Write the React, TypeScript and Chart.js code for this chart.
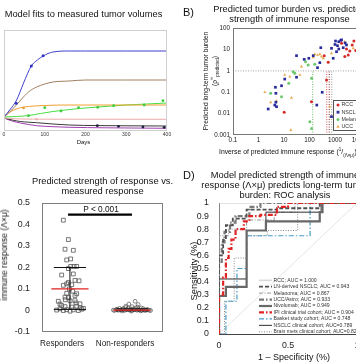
import React, { useEffect, useRef } from 'react';
import { Chart, registerables } from 'chart.js';

Chart.register(...registerables);

const FONT = '"Liberation Sans", Arial, Helvetica, sans-serif';
Chart.defaults.font.family = FONT;
Chart.defaults.color = '#222';

type Pt = [number, number];
const xy = (a: Pt[]) => a.map(([x, y]) => ({ x, y }));

// ---------------- Panel A: model fits (days, relative volume) ----------------
const daysTicks = [0, 100, 200, 300, 400];
const blueFit: Pt[] = [[0, 14], [14, 21], [31, 31], [48, 48], [67, 65], [82, 71], [96, 75], [120, 79], [160, 80], [200, 80], [300, 80], [400, 80]];
const bluePts: Pt[] = [[30, 27.7], [67, 65], [96, 75.3]];
const brownFit: Pt[] = [[0, 14], [19, 21], [41, 31], [60, 39], [80, 44], [100, 47], [120, 49], [160, 50], [200, 51], [300, 51], [400, 51]];
const orangeFit: Pt[] = [[0, 14], [15, 19], [30, 22], [50, 24], [75, 25], [100, 25.5], [150, 26], [200, 26], [400, 26]];
const orangePts: Pt[] = [[48, 23]];
const greenFit: Pt[] = [[0, 14], [30, 14.5], [60, 15.5], [90, 17.5], [120, 19.5], [150, 21], [185, 22.5], [230, 24], [265, 25], [300, 26], [350, 27], [400, 28]];
const greenPts: Pt[] = [[60, 15.3], [100, 23.3], [140, 20], [183, 23.3], [230, 23.7], [269, 25.3], [344, 26], [390, 30.3]];
const pinkFit: Pt[] = [[0, 13], [40, 12], [100, 11.8], [400, 11.7]];
const pinkPts: Pt[] = [[80, 11.7]];
const blackFit: Pt[] = [[0, 13], [20, 11], [40, 9.5], [60, 8.8], [80, 8.3], [120, 7], [160, 6], [230, 5.4], [300, 5.2], [400, 5]];
const blackPts: Pt[] = [[229, 5.3], [281, 4.7], [341, 4], [393, 3.7]];
const purpleFit: Pt[] = [[0, 13], [20, 10], [40, 8], [60, 6.5], [80, 5.3], [120, 4.3], [160, 3.7], [250, 3.2], [400, 2.7]];

// ---------------- Panel B: tumor burden vs inverse immune response ----------------
const bXTicks = [0.1, 1, 10, 100, 1000, 10000, 100000];
const bYTicks = [0.001, 0.01, 0.1, 1, 10, 100];
const bNames = ['RCC', 'NSCLC', 'Melanoma', 'UCC'];
const rccPts: Pt[] = [[1800, 19.3], [2820, 10.4], [3800, 8.4], [4730, 16.1], [3300, 5.5], [2420, 4.6], [541, 2.5], [377, 5.1], [10.2, 0.0115], [120, 0.036], [464, 0.37], [5500, 25], [6500, 9]];
const nsclcPts: Pt[] = [[1047, 24.7], [1410, 22.9], [1690, 26.5], [1254, 14.9], [1410, 10.4], [2100, 12], [2820, 16.1], [1146, 7.8], [850, 3.84], [31, 5.1], [62, 3.44], [94, 3.84], [140, 5.1], [277, 12], [254, 2.4], [206, 1.4], [10.7, 0.41], [8.0, 0.2], [4.6, 0.17], [31, 0.5], [5.1, 0.021], [4.35, 0.025], [4.8, 0.034], [2.4, 0.0164], [315, 0.099], [193, 0.025], [729, 0.0072], [4.8, 0.089], [1000, 17], [729, 11.2], [2500, 20], [1800, 28]];
const melanomaPts: Pt[] = [[23, 0.91], [8.0, 0.062], [3.0, 0.089], [120, 0.45], [26.5, 0.76], [15.4, 0.26], [89, 1.87], [70, 2.66], [161, 2.0], [103, 0.0042], [120, 0.002]];
const uccPts: Pt[] = [[16.9, 0.53], [19.7, 0.055], [3.0, 0.034], [5.1, 0.039], [10.7, 0.64], [42, 0.64], [48.5, 1.56], [625, 0.021], [161, 5.9], [206, 5.5], [254, 5.9], [296, 4.6], [140, 4.27], [345, 3.84], [18.5, 0.0017], [2420, 22.9], [5180, 11.2], [729, 6.6], [1.77, 0.1]];
const unityLine: Pt[] = [[0.1, 1], [100000, 1]];
const cutoffs = [133, 473, 597, 743];

// ---------------- Panel C: predicted response by group ----------------
const cTicks = [-0.1, 0, 0.1, 0.2, 0.3, 0.4, 0.5];
const cGroups = ['Responders', 'Non-responders'];
const cLabelPos = [0.873, 1.889];
const respPts: Pt[] = [[0.894, 0.42], [0.975, 0.33], [0.921, 0.285], [1.055, 0.28], [1.012, 0.24], [0.948, 0.235], [1.066, 0.205], [1.012, 0.205], [1.109, 0.205], [0.975, 0.195], [0.867, 0.165], [1.055, 0.17], [1.082, 0.14], [1.147, 0.138], [0.894, 0.117], [0.948, 0.124], [1.029, 0.12], [0.991, 0.1], [1.109, 0.078], [0.948, 0.08], [0.921, 0.062], [0.975, 0.06], [0.813, 0.043], [1.002, 0.045], [1.082, 0.046], [1.163, 0.031], [0.867, 0.023], [0.921, 0.018], [1.029, 0.016], [1.109, 0.02], [0.84, 0.008], [0.948, 0.004], [1.055, 0.003], [1.19, 0.006], [1.002, -0.003], [0.894, 0.0], [1.136, 0.0], [0.787, 0.002], [1.217, 0.01], [1.098, 0.035], [0.975, 0.13], [1.045, 0.09], [0.926, 0.05], [1.163, 0.012], [0.84, 0.03], [1.082, 0.07]];
const nonPts: Pt[] = [[2.05, 0.043], [1.95, 0.03], [2.1, 0.028], [1.9, 0.02], [2.0, 0.018], [2.15, 0.012], [1.8, 0.01], [1.85, 0.006], [1.75, 0.004], [1.7, 0.002], [1.72, 0.0], [1.78, 0.001], [1.82, 0.003], [1.88, 0.0], [1.92, 0.005], [1.96, 0.002], [2.0, 0.0], [2.04, 0.004], [2.08, 0.001], [2.12, 0.003], [2.16, 0.0], [2.2, 0.002], [2.24, 0.005], [2.28, 0.001], [2.3, 0.0], [1.86, 0.009], [1.94, 0.011], [2.02, 0.008], [2.1, 0.007], [2.18, 0.009], [2.26, 0.003], [1.9, 0.014], [1.98, 0.007], [2.06, 0.012], [1.76, 0.006], [2.22, 0.0], [1.84, -0.002], [2.14, -0.002], [1.99, -0.003], [2.09, 0.016]];
const groupCenter = [1, 2];
const groupMean = [0.101, 0.002];
const groupLow = [0.005, -0.002];
const groupHigh = [0.2, 0.008];
const pBar: Pt[] = [[0.97, 0.446], [2.0, 0.446]];

// ---------------- Panel D: ROC curves ----------------
const dYTicks = [0, 0.1, 0.2, 0.3, 0.4, 0.5, 0.6, 0.7, 0.8, 0.9, 1];
const dXTicks = [0, 0.5, 1];
const rocNames = [
  'RCC; AUC = 1.000',
  'LN-derived NSCLC; AUC = 0.943',
  'Melanoma; AUC = 0.867',
  'UCC/Astro; AUC = 0.933',
  'Nivolumab; AUC = 0.949',
  'IPI clinical trial cohort; AUC = 0.904',
  'Basket study cohort; AUC = 0.748',
  'NSCLC clinical cohort; AUC=0.789',
  'Brain mets clinical cohort; AUC=0.824',
];
const rocRcc: Pt[] = [[0, 0], [0, 1], [1, 1]];
const rocLn: Pt[] = [[0, 0], [0, 0.6], [0.03, 0.6], [0.03, 0.72], [0.05, 0.72], [0.05, 0.83], [0.1, 0.83], [0.1, 0.88], [0.2, 0.88], [0.2, 0.95], [0.42, 0.95], [0.42, 0.96], [0.73, 0.96], [0.73, 1], [1, 1]];
const rocMel: Pt[] = [[0, 0], [0, 0.75], [0.07, 0.75], [0.07, 0.8], [0.2, 0.8], [0.2, 0.87], [0.4, 0.87], [0.4, 0.93], [0.55, 0.93], [0.55, 1], [1, 1]];
const rocUcc: Pt[] = [[0, 0], [0, 0.55], [0.02, 0.55], [0.02, 0.7], [0.04, 0.7], [0.04, 0.78], [0.08, 0.78], [0.08, 0.85], [0.12, 0.85], [0.12, 0.9], [0.22, 0.9], [0.22, 0.97], [0.3, 0.97], [0.3, 1], [1, 1]];
const rocNivo: Pt[] = [[0, 0], [0, 0.29], [0.05, 0.29], [0.05, 0.36], [0.2, 0.36], [0.2, 0.79], [0.34, 0.79], [0.34, 0.86], [0.73, 0.86], [0.73, 0.93], [0.75, 0.93], [0.75, 1], [1, 1]];
const rocIpi: Pt[] = [[0, 0], [0, 0.3], [0.03, 0.3], [0.03, 0.43], [0.05, 0.43], [0.05, 0.58], [0.07, 0.58], [0.07, 0.65], [0.09, 0.65], [0.09, 0.72], [0.12, 0.72], [0.12, 0.8], [0.18, 0.8], [0.18, 0.86], [0.22, 0.86], [0.22, 0.9], [0.3, 0.9], [0.3, 0.91], [0.42, 0.91], [0.42, 0.97], [0.5, 0.97], [0.5, 1], [1, 1]];
const rocBasket: Pt[] = [[0, 0], [0.05, 0], [0.05, 0.25], [0.13, 0.25], [0.13, 0.5], [0.2, 0.5], [0.2, 0.75], [0.66, 0.75], [0.66, 1], [1, 1]];
const rocNsclc: Pt[] = [[0, 0], [0, 0.42], [0.2, 0.42], [0.2, 0.79], [0.34, 0.79], [0.34, 0.93], [0.74, 0.93], [0.74, 1], [1, 1]];
const rocBrain: Pt[] = [[0, 0], [0.04, 0], [0.04, 0.25], [0.11, 0.25], [0.11, 0.58], [0.2, 0.58], [0.2, 0.75], [0.35, 0.75], [0.35, 0.79], [0.57, 0.79], [0.57, 1], [1, 1]];
const rocCurves = [rocRcc, rocLn, rocMel, rocUcc, rocNivo, rocIpi, rocBasket, rocNsclc, rocBrain];
const chance: Pt[] = [[0, 0], [1, 1]];

const rocStyles = [
  { color: '#c8c8c8', width: 1, dash: [] as number[] },
  { color: '#505050', width: 1.8, dash: [4, 2] },
  { color: '#9a9a9a', width: 1, dash: [4, 1.5, 1, 1.5] },
  { color: '#7a7a7a', width: 2.2, dash: [5, 2, 1.5, 2] },
  { color: '#686868', width: 2.2, dash: [] as number[] },
  { color: '#e02424', width: 2.2, dash: [5, 2, 1.5, 2] },
  { color: '#4a9cc8', width: 1.2, dash: [5, 2, 1.5, 2] },
  { color: '#2e2e2e', width: 1, dash: [] as number[] },
  { color: '#888888', width: 1, dash: [1, 1.5] },
];

// ---------------- helpers ----------------
const fixY = (w: number) => (s: any) => { s.width = w; s.paddingTop = 0; s.paddingBottom = 0; };
const fixX = (h: number) => (s: any) => { s.height = h; s.paddingLeft = 0; s.paddingRight = 0; };
const setTicks = (vals: number[]) => (a: any) => { a.ticks = vals.map((v) => ({ value: v })); };
const fmt = (v: number) => (Math.abs(v) < 1e-9 ? '0' : String(Number(v.toPrecision(6))));

const framePlugin = (color: string) => ({
  id: 'frame',
  afterDatasetsDraw(chart: any) {
    const { ctx, chartArea: a } = chart;
    ctx.save();
    ctx.strokeStyle = color;
    ctx.lineWidth = 1;
    ctx.strokeRect(Math.round(a.left) + 0.5, Math.round(a.top) + 0.5, Math.round(a.right - a.left) - 1, Math.round(a.bottom - a.top) - 1);
    ctx.restore();
  },
});

const baseOpts = (padding: any) => ({
  animation: false,
  responsive: false,
  events: [],
  layout: { padding },
  plugins: { legend: { display: false }, tooltip: { enabled: false }, title: { display: false } },
});

const line = (data: Pt[], color: string, width: number, dash: number[] = [], smooth = false) => ({
  data: xy(data),
  showLine: true,
  borderColor: color,
  borderWidth: width,
  borderDash: dash,
  pointRadius: 0,
  fill: false,
  cubicInterpolationMode: smooth ? 'monotone' : 'default',
  tension: 0,
});

const pts = (data: Pt[], color: string, style = 'circle', r = 1.4, fill = true, bw = 0) => ({
  data: xy(data),
  showLine: false,
  pointStyle: style,
  pointRadius: r,
  pointBackgroundColor: fill ? color : 'rgba(0,0,0,0)',
  pointBorderColor: color,
  pointBorderWidth: bw,
});

// ---------------- chart configs ----------------
function configA(): any {
  return {
    type: 'scatter',
    data: {
      datasets: [
        pts(bluePts, '#3434c0', 'circle', 1.5),
        pts(greenPts, '#3ccc3c', 'circle', 1.4),
        pts(orangePts, '#e89a30', 'circle', 1.3),
        pts(pinkPts, '#eeb0b0', 'circle', 1.2),
        pts(blackPts, '#202040', 'circle', 1.4),
        line(blueFit, '#4040cc', 1, [], true),
        line(brownFit, '#a0805e', 1, [], true),
        line(orangeFit, '#f0a030', 1, [], true),
        line(greenFit, '#44dd44', 1, [], true),
        line(pinkFit, '#eeaaaa', 1, [], true),
        line(blackFit, '#3a3a3a', 1, [], true),
        line(purpleFit, '#a040b0', 1, [], true),
      ],
    },
    options: {
      ...baseOpts({ top: 30, right: 9, left: 1, bottom: 0 }),
      scales: {
        x: {
          type: 'linear', min: 0, max: 400,
          grid: { display: false, drawTicks: false }, border: { display: false },
          ticks: { font: { size: 5 }, padding: 1, color: '#333', maxRotation: 0, autoSkip: false, callback: (v: number) => fmt(v) },
          afterBuildTicks: setTicks(daysTicks), afterFit: fixX(19),
        },
        y: { type: 'linear', display: false, min: 0, max: 101 },
      },
    },
    plugins: [framePlugin('#cfcfcf')],
  };
}

const bColors = ['#d42a2a', '#2a2a9a', '#6cc86c', '#e8a848'];
const bStyles = ['circle', 'rect', 'circle', 'triangle'];
const cutColors = ['#86c886', '#e07070', '#a85050', '#a8a8a8'];

const bLegendPlugin = {
  id: 'bLegend',
  afterDraw(chart: any) {
    const { ctx, chartArea: a } = chart;
    const bx = Math.round(a.left + 100) + 0.5;
    const by = 100.5;
    ctx.save();
    ctx.fillStyle = '#fff';
    ctx.fillRect(bx, by, 60, 30);
    ctx.strokeStyle = '#555';
    ctx.lineWidth = 1;
    ctx.strokeRect(bx, by, 60, 30);
    ctx.font = `5.3px ${FONT}`;
    ctx.textBaseline = 'middle';
    bNames.forEach((n, i) => {
      const y = 105 + i * 7.2;
      const mx = bx + 4.5;
      ctx.fillStyle = bColors[i];
      ctx.beginPath();
      if (bStyles[i] === 'rect') ctx.rect(mx - 1.4, y - 1.4, 2.8, 2.8);
      else if (bStyles[i] === 'triangle') { ctx.moveTo(mx, y - 1.8); ctx.lineTo(mx + 1.7, y + 1.2); ctx.lineTo(mx - 1.7, y + 1.2); ctx.closePath(); }
      else ctx.arc(mx, y, 1.5, 0, Math.PI * 2);
      ctx.fill();
      ctx.fillStyle = '#333';
      ctx.fillText(n, bx + 8, y);
    });
    ctx.restore();
  },
};

function configB(): any {
  const groups = [rccPts, nsclcPts, melanomaPts, uccPts];
  const scatter = groups.map((g, i) => pts(g, bColors[i], bStyles[i], bStyles[i] === 'rect' ? 1.9 : bStyles[i] === 'triangle' ? 1.8 : 1.5));
  const cuts = cutoffs.map((c, i) => line([[c, 0.001], [c, 1]], cutColors[i], 1.2, [1, 1.5]));
  return {
    type: 'scatter',
    data: { datasets: [...scatter, line(unityLine, '#b4b4b4', 1.3, [1, 1.5]), ...cuts] },
    options: {
      ...baseOpts({ top: 28, right: 14, left: 0, bottom: 0 }),
      scales: {
        x: {
          type: 'logarithmic', min: 0.1, max: 100000,
          grid: { display: false, drawTicks: false }, border: { display: false },
          ticks: { font: { size: 6.3 }, padding: 1, color: '#222', maxRotation: 0, autoSkip: false, callback: (v: number) => fmt(v) },
          afterBuildTicks: setTicks(bXTicks), afterFit: fixX(15),
        },
        y: {
          type: 'logarithmic', min: 0.001, max: 100,
          grid: { display: false, drawTicks: false }, border: { display: false },
          ticks: { font: { size: 6.3 }, padding: 3, color: '#222', autoSkip: false, callback: (v: number) => fmt(v) },
          afterBuildTicks: setTicks(bYTicks), afterFit: fixY(33),
        },
      },
    },
    plugins: [framePlugin('#777'), bLegendPlugin],
  };
}

function configC(): any {
  const meanHalf = 0.3;
  const capHalf = 0.26;
  const extra: any[] = [];
  groupCenter.forEach((c, i) => {
    extra.push(line([[c - meanHalf, groupMean[i]], [c + meanHalf, groupMean[i]]], '#e02020', 1.2));
    extra.push(line([[c, groupLow[i]], [c, groupHigh[i]]], '#111', 1));
    extra.push(line([[c - capHalf, groupLow[i]], [c + capHalf, groupLow[i]]], '#111', 1));
    extra.push(line([[c - capHalf, groupHigh[i]], [c + capHalf, groupHigh[i]]], '#111', 1));
  });
  return {
    type: 'scatter',
    data: {
      datasets: [
        line(pBar, '#000', 2.2),
        ...extra,
        pts(respPts, '#555', 'rect', 2.7, false, 0.8),
        pts(nonPts, '#555', 'circle', 1.9, false, 0.7),
      ],
    },
    options: {
      ...baseOpts({ top: 7, right: 7, left: 0, bottom: 0 }),
      scales: {
        x: {
          type: 'linear', min: 0.55, max: 2.5,
          grid: { display: false, drawTicks: false }, border: { display: false },
          ticks: { font: { size: 8.2 }, padding: 7, color: '#222', maxRotation: 0, autoSkip: false, callback: (_v: number, i: number) => cGroups[i] },
          afterBuildTicks: setTicks(cLabelPos), afterFit: fixX(24),
        },
        y: {
          type: 'linear', min: -0.1, max: 0.5,
          grid: { display: false, drawTicks: false }, border: { display: false },
          ticks: { font: { size: 8.8 }, padding: 12, color: '#222', autoSkip: false, callback: (v: number) => fmt(v) },
          afterBuildTicks: setTicks(cTicks), afterFit: fixY(42),
        },
      },
    },
    plugins: [framePlugin('#808080')],
  };
}

const dLegendPlugin = {
  id: 'dLegend',
  afterDraw(chart: any) {
    const { ctx } = chart;
    ctx.save();
    ctx.font = `5.1px ${FONT}`;
    ctx.textBaseline = 'middle';
    rocNames.forEach((n, i) => {
      const y = 84.2 + i * 6.45;
      const s = rocStyles[i];
      ctx.strokeStyle = s.color;
      ctx.lineWidth = s.width;
      ctx.setLineDash(s.dash);
      ctx.beginPath();
      ctx.moveTo(79, y);
      ctx.lineTo(92, y);
      ctx.stroke();
      ctx.setLineDash([]);
      ctx.fillStyle = '#333';
      ctx.fillText(n, 93.5, y);
    });
    ctx.restore();
  },
};

function configD(): any {
  const order = [5, 1, 3, 4, 7, 6, 8, 2, 0];
  const curves = order.map((i) => line(rocCurves[i], rocStyles[i].color, rocStyles[i].width, rocStyles[i].dash));
  return {
    type: 'scatter',
    data: { datasets: [...curves, line(chance, '#e4e4e4', 1)] },
    options: {
      ...baseOpts({ top: 7, right: 13, left: 0, bottom: 0 }),
      scales: {
        x: {
          type: 'linear', min: 0, max: 1,
          grid: { display: false, drawTicks: false }, border: { display: true, color: '#444' },
          ticks: { font: { size: 8.8 }, padding: 6, color: '#222', maxRotation: 0, autoSkip: false, callback: (v: number) => fmt(v) },
          afterBuildTicks: setTicks(dXTicks), afterFit: fixX(22),
        },
        y: {
          type: 'linear', min: 0, max: 1,
          grid: { display: false, drawTicks: false }, border: { display: true, color: '#444' },
          ticks: { font: { size: 8.8 }, padding: 10, color: '#222', autoSkip: false, callback: (v: number) => fmt(v) },
          afterBuildTicks: setTicks(dYTicks), afterFit: fixY(39),
        },
      },
    },
    plugins: [dLegendPlugin],
  };
}

// ---------------- components ----------------
function ChartCanvas({ left, top, width, height, make }: { left: number; top: number; width: number; height: number; make: () => any }) {
  const ref = useRef<HTMLCanvasElement>(null);
  useEffect(() => {
    const chart = new Chart(ref.current as HTMLCanvasElement, make());
    return () => chart.destroy();
  }, []);
  return <canvas ref={ref} width={width} height={height} style={{ position: 'absolute', left, top, width, height }} />;
}

function Txt({ x, y, size, children, align = 'center', rotate = false }: any) {
  const lh = size * 1.15;
  const style: any = { position: 'absolute', fontSize: size, lineHeight: `${lh}px`, whiteSpace: 'nowrap', color: '#111', fontFamily: FONT };
  if (rotate) {
    style.left = x;
    style.top = y;
    style.transform = 'translate(-50%, -50%) rotate(-90deg)';
  } else if (align === 'center') {
    style.left = x - 200;
    style.width = 400;
    style.textAlign = 'center';
    style.top = y - lh / 2;
  } else {
    style.left = x;
    style.top = y - lh / 2;
  }
  return <div style={style}>{children}</div>;
}

export default function App() {
  return (
    <div style={{ position: 'fixed', left: 0, top: 0, width: 356, height: 364, overflow: 'hidden', background: '#fff', fontFamily: FONT }}>
      <ChartCanvas left={0} top={0} width={176} height={150} make={configA} />
      <ChartCanvas left={200} top={0} width={200} height={150} make={configB} />
      <ChartCanvas left={0} top={196} width={170} height={160} make={configC} />
      <ChartCanvas left={180} top={196} width={190} height={160} make={configD} />

      <Txt x={83.5} y={14} size={9.3}>Model fits to measured tumor volumes</Txt>
      <Txt x={83.5} y={142.7} size={6}>Days</Txt>

      <Txt x={183} y={12} size={11} align="left">B)</Txt>
      <Txt x={289.5} y={9} size={9.3}>Predicted tumor burden vs. predicted</Txt>
      <Txt x={289.5} y={19.5} size={9.3}>strength of immune response</Txt>
      <Txt x={206} y={81} size={6.6} rotate>Predicted long-term tumor burden</Txt>
      <Txt x={214.5} y={71} size={6.6} rotate>(ρ<sup style={{ fontSize: 4.5 }}>∞</sup><sub style={{ fontSize: 4.5 }}>predicted</sub>)</Txt>
      <Txt x={219} y={150} size={6.8} align="left">Inverse of predicted immune response (<sup style={{ fontSize: 4.5 }}>1</sup>/<sub style={{ fontSize: 4.5 }}>(Λ×μ)</sub>)</Txt>

      <Txt x={102.5} y={181} size={9.3}>Predicted strength of response vs.</Txt>
      <Txt x={102.5} y={191.5} size={9.3}>measured response</Txt>
      <Txt x={5} y={255} size={8.5} rotate>immune response (Λ×μ)</Txt>
      <Txt x={101} y={209.5} size={8.3}>P &lt; 0.001</Txt>

      <Txt x={183} y={175.5} size={11} align="left">D)</Txt>
      <Txt x={285} y={175.5} size={9.3}>Model predicted strength of immune</Txt>
      <Txt x={285} y={185.3} size={9.3}>response (Λ×μ) predicts long-term tumor</Txt>
      <Txt x={285} y={195} size={9.3}>burden: ROC analysis</Txt>
      <Txt x={194} y={271} size={9.3} rotate>Sensitivity (%)</Txt>
      <Txt x={294} y={357} size={9} >1 – Specificity (%)</Txt>
    </div>
  );
}
